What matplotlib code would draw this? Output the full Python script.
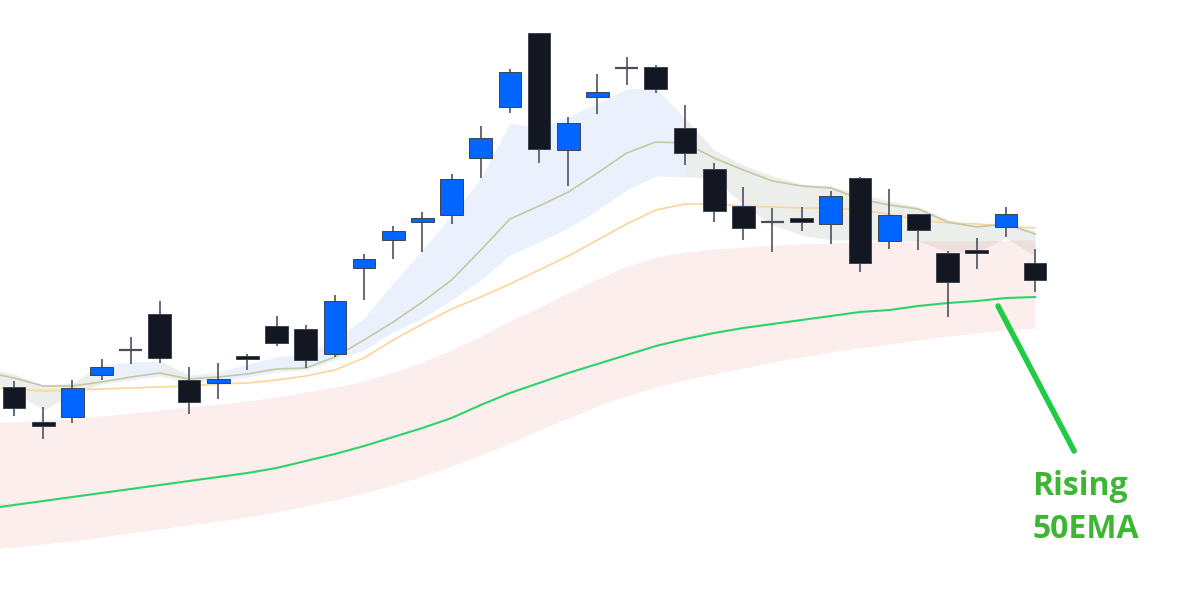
import numpy as np
import matplotlib.pyplot as plt

# candles (price units), index 0..35
opens = [220, 185, 190, 232, 257, 293, 227, 224, 251, 281, 278, 253, 339, 367, 385, 392, 449, 500,
         574, 457, 510, 539, 540, 479, 438, 401, 385, 389, 383, 429, 366, 393, 354, 357, 380, 344]
closes = [199, 181, 219, 240, 257, 249, 205, 228, 248, 264, 247, 306, 348, 376, 389, 428, 469, 535,
          458, 484, 515, 539, 518, 454, 396, 379, 385, 385, 411, 344, 392, 377, 325, 354, 393, 327]
highs = [226, 200, 227, 248, 270, 306, 240, 244, 253, 291, 282, 312, 353, 381, 395, 433, 481, 538,
         574, 490, 533, 550, 542, 502, 444, 420, 399, 400, 416, 430, 418, 393, 356, 369, 400, 358]
lows = [191, 168, 184, 227, 243, 244, 193, 208, 237, 261, 239, 250, 307, 348, 355, 383, 429, 494,
        444, 421, 493, 522, 514, 442, 385, 367, 355, 376, 363, 335, 358, 357, 290, 338, 370, 315]

# indicator values, index -1..35 (first point sits just off the left edge)
ema_fast = [235, 229, 221, 221, 225, 230, 234, 228, 230, 233, 238, 239, 250, 267, 285, 305, 327, 357, 388,
            401, 415, 434, 454, 465, 464, 449, 437, 426, 421, 419, 408, 402, 398, 385, 380, 383, 373]
ema_mid = [220, 218, 216, 217, 218, 219, 220, 221, 223, 224, 227, 231, 237, 249, 267, 283, 298, 310, 323,
           337, 351, 367, 383, 397, 403, 403, 401, 400, 399, 399, 397, 393, 387, 384, 383, 381, 379]
ema50 = [98, 102, 106, 110, 114, 118, 122, 126, 130, 134, 139, 146, 153, 161, 170, 179, 189, 202, 214,
         224, 234, 243, 252, 261, 268, 274, 279, 283, 287, 291, 295, 297, 301, 304, 306, 309, 310]
band50_hi = [184, 185, 187, 189, 191, 194, 197, 200, 203, 206, 210, 215, 220, 226, 235, 245, 257, 271, 286,
             300, 314, 328, 341, 350, 355, 358, 360, 362, 363, 364, 365, 365, 366, 366, 366, 367, 367]
band50_lo = [57, 60, 63, 66, 70, 74, 78, 82, 86, 90, 95, 101, 107, 114, 122, 131, 141, 152, 164,
             177, 189, 201, 211, 220, 227, 233, 239, 245, 250, 255, 259, 263, 267, 271, 274, 277, 279]
ribbon_hi = [239, 233, 222, 224, 242, 245, 246, 232, 235, 243, 250, 253, 267, 289, 324, 357, 392, 429, 484,
             479, 490, 504, 518, 519, 489, 457, 442, 431, 423, 421, 413, 406, 400, 388, 382, 386, 376]
ribbon_lo = [229, 215, 197, 212, 223, 227, 231, 225, 226, 230, 235, 237, 247, 257, 275, 289, 307, 327, 352,
             365, 379, 397, 417, 431, 430, 429, 402, 382, 372, 367, 367, 367, 366, 355, 355, 369, 351]
# ribbon colour for each segment (i -> i+1), "up" = blue, "down" = grey
ribbon_trend = ["down"] * 4 + ["up"] * 2 + ["down"] + ["up"] * 17 + ["down"] * 12

n = len(opens)
xi = np.arange(n)
xl = np.arange(-1, n)

fig = plt.figure(figsize=(11.78, 6.07), dpi=100)
ax = fig.add_axes([0, 0, 1, 1])
ax.set_xlim(-0.48, 39.9)
ax.set_ylim(0, 607)
ax.axis("off")

# 50 EMA band
ax.fill_between(xl, band50_lo, band50_hi, color="#f08080", alpha=0.13, lw=0, zorder=1)

# fast ribbon, one fill per run of same colour
run_start = 0
for k in range(1, len(ribbon_trend) + 1):
    if k == len(ribbon_trend) or ribbon_trend[k] != ribbon_trend[run_start]:
        col = "#5a8cf0" if ribbon_trend[run_start] == "up" else "#9aa39a"
        a = 0.12 if ribbon_trend[run_start] == "up" else 0.18
        ax.fill_between(xl[run_start:k + 1], ribbon_lo[run_start:k + 1], ribbon_hi[run_start:k + 1],
                        color=col, alpha=a, lw=0, zorder=2)
        run_start = k

ax.plot(xl, ema50, color="#2bd46a", lw=1.5, zorder=3)
ax.plot(xl, ema_mid, color="#ffd49a", lw=1.2, zorder=3)
ax.plot(xl, ema_fast, color="#c5c9a2", lw=1.2, zorder=3)

# candles
body_w = 0.78
for i in range(n):
    o, c, h, l = opens[i], closes[i], highs[i], lows[i]
    ax.vlines(xi[i], l, h, color="#5a5f69", lw=1.3, zorder=4)
    if o == c:
        ax.hlines(o, xi[i] - body_w / 2, xi[i] + body_w / 2, color="#4a4f59", lw=1.6, zorder=5)
        continue
    up = c > o
    ax.bar(xi[i], abs(c - o), bottom=min(o, c), width=body_w,
           color="#0066ff" if up else "#131722", edgecolor="#3d4350", lw=0.7, zorder=5)

# callout
ax.annotate("", xy=(33.73, ema50[-3] - 5), xytext=(36.34, 156),
            arrowprops=dict(arrowstyle="-", lw=4, color="#1fcc44", shrinkA=0, shrinkB=0,
                            capstyle="round"), zorder=6)
ax.text(34.9, 137, "Rising\n50EMA", color="#3db634", fontsize=23, fontweight="bold",
        family="Open Sans", ha="left", va="top", linespacing=1.38, zorder=6)

fig.savefig("out.png", dpi=100, facecolor="white")
